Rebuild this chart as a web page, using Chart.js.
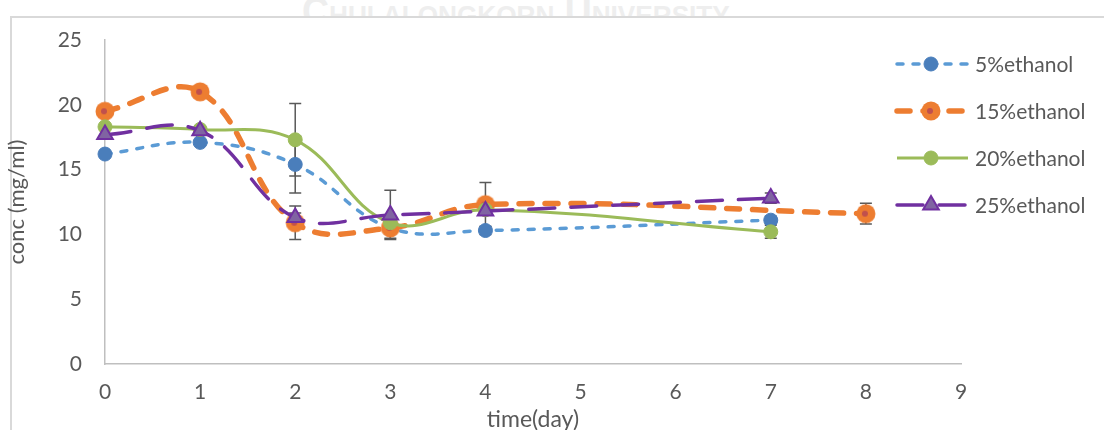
<!DOCTYPE html>
<html><head><meta charset="utf-8">
<script src="https://cdn.jsdelivr.net/npm/chart.js@4/dist/chart.umd.min.js"></script>
<style>
html,body{margin:0;padding:0;background:#fff;}
#wrap{position:relative;width:1104px;height:430px;overflow:hidden;background:#fff;}
#wm{position:absolute;left:302px;top:-9px;font:bold 40px 'Liberation Sans',sans-serif;line-height:40px;font-variant:small-caps;color:#eeeeee;white-space:nowrap;transform-origin:left top;}
#frame{position:absolute;left:10px;top:16px;width:1200px;height:600px;border-left:2px solid #d9d9d9;border-top:2px solid #d9d9d9;background:#fff;}
#c{position:absolute;left:0;top:0;}
</style>
</head><body>
<div id="wrap">
  <div id="wm">Chulalongkorn University</div>
  <div id="frame"></div>
  <canvas id="c" width="1104" height="430"></canvas>
</div>
<script>
// ---- data ----
const seriesLabels = ['5%ethanol', '15%ethanol', '20%ethanol', '25%ethanol'];
const days5  = [0, 1, 2, 3, 4, 7];
const conc5  = [16.2, 17.1, 15.4, 10.5, 10.3, 11.1];
const err5   = [0, 0, 2.2, 0.3, 0.3, 0.3];
const days15 = [0, 1, 2, 3, 4, 8];
const conc15 = [19.5, 21.0, 10.9, 10.5, 12.3, 11.6];
const err15  = [0, 0, 1.3, 0.8, 1.7, 0.8];
const days20 = [0, 1, 2, 3, 4, 7];
const conc20 = [18.3, 18.1, 17.3, 10.9, 11.9, 10.2];
const err20  = [0, 0, 2.8, 0.3, 0.3, 0.5];
const days25 = [0, 1, 2, 3, 4, 7];
const conc25 = [17.7, 18.0, 11.3, 11.5, 11.8, 12.8];
const err25  = [0, 0, 0.35, 1.9, 0.3, 0.4];
const xTickValues = [0, 1, 2, 3, 4, 5, 6, 7, 8, 9];
const yTickValues = [0, 5, 10, 15, 20, 25];
const xTitle = 'time(day)';
const yTitle = 'conc (mg/ml)';

// watermark width fit
(function(){const w=document.getElementById('wm');const s=428/w.offsetWidth;w.style.transform='scaleX('+s+')';})();

const FONT = 'Lato';
const TXT = '#595959';

function pts(xs, ys){ return xs.map((x,i)=>({x:x, y:ys[i]})); }

// orange marker image (circle with small red centre)
function orangeMarker(){
  const c=document.createElement('canvas'); c.width=22; c.height=22;
  const g=c.getContext('2d');
  g.fillStyle='#ED7D31'; g.beginPath(); g.arc(11,11,9.5,0,Math.PI*2); g.fill();
  g.fillStyle='#C0504D'; g.beginPath(); g.arc(10,11,3,0,Math.PI*2); g.fill();
  return c;
}
const oMark = orangeMarker();

const datasets = [
  {label: seriesLabels[0], data: pts(days5, conc5), errors: err5, order: 3, clip:false,
   borderColor:'#5B9BD5', borderWidth:3.5, borderDash:[6,10], borderCapStyle:'round',
   pointStyle:'circle', pointRadius:7, pointBackgroundColor:'#4A7EBB', pointBorderColor:'#4A7EBB', pointBorderWidth:1},
  {label: seriesLabels[1], data: pts(days15, conc15), errors: err15, order: 2, clip:false,
   borderColor:'#ED7D31', borderWidth:5.5, borderDash:[13,13], borderCapStyle:'round',
   pointStyle:oMark, pointRadius:9, pointBackgroundColor:'#ED7D31', pointBorderColor:'#ED7D31'},
  {label: seriesLabels[2], data: pts(days20, conc20), errors: err20, order: 1, clip:false,
   borderColor:'#9BBB59', borderWidth:3, borderDash:[],
   pointStyle:'circle', pointRadius:7, pointBackgroundColor:'#9BBB59', pointBorderColor:'#9BBB59', pointBorderWidth:1},
  {label: seriesLabels[3], data: pts(days25, conc25), errors: err25, order: 0, clip:false,
   borderColor:'#7030A0', borderWidth:3.5, borderDash:[26,16], borderCapStyle:'round',
   pointStyle:'triangle', pointRadius:9, pointBackgroundColor:'#8064A2', pointBorderColor:'#7030A0', pointBorderWidth:2}
];

const errorBars = {
  id:'errorBars',
  beforeDatasetsDraw(chart){
    const ctx=chart.ctx, xs=chart.scales.x, ys=chart.scales.y;
    ctx.save(); ctx.strokeStyle='#595959'; ctx.lineWidth=1.5; ctx.setLineDash([]);
    chart.data.datasets.forEach(ds=>{
      ds.data.forEach((p,j)=>{
        const e=ds.errors[j]; if(!e) return;
        const x=xs.getPixelForValue(p.x), y1=ys.getPixelForValue(p.y+e), y2=ys.getPixelForValue(p.y-e);
        ctx.beginPath(); ctx.moveTo(x,y1); ctx.lineTo(x,y2);
        ctx.moveTo(x-6,y1); ctx.lineTo(x+6,y1); ctx.moveTo(x-6,y2); ctx.lineTo(x+6,y2); ctx.stroke();
      });
    });
    ctx.restore();
  }
};

const sideLegend = {
  id:'sideLegend',
  afterDraw(chart){
    const ctx=chart.ctx;
    ctx.save();
    chart.data.datasets.forEach((ds,i)=>{
      const y=64+i*47, x0=897, x1=968, xm=931;
      ctx.strokeStyle=ds.borderColor; ctx.lineWidth=ds.borderWidth; ctx.lineCap=ds.borderCapStyle||'butt';
      ctx.setLineDash(ds.borderDash||[]);
      ctx.beginPath(); ctx.moveTo(x0,y); ctx.lineTo(x1,y); ctx.stroke();
      ctx.setLineDash([]);
      ctx.fillStyle=ds.pointBackgroundColor; ctx.strokeStyle=ds.pointBorderColor; ctx.lineWidth=ds.pointBorderWidth||0;
      Chart.helpers.drawPoint(ctx,{pointStyle:ds.pointStyle, radius:ds.pointRadius, rotation:0, borderWidth:ds.pointBorderWidth||0}, xm, y);
      ctx.fillStyle=TXT; ctx.font='21px '+FONT; ctx.textBaseline='middle'; ctx.textAlign='left';
      ctx.fillText(ds.label, 975, y+1);
    });
    ctx.restore();
  }
};

new Chart(document.getElementById('c'), {
  type:'line',
  data:{datasets:datasets},
  options:{
    responsive:false, animation:false,
    layout:{padding:{left:0, top:40, right:143, bottom:0}},
    elements:{line:{tension:0.4, fill:false}},
    plugins:{legend:{display:false}, tooltip:{enabled:false}},
    scales:{
      x:{type:'linear', min:0, max:9,
         afterFit(s){s.height=66;},
         afterBuildTicks(s){s.ticks=xTickValues.map(v=>({value:v}));},
         grid:{display:false, drawTicks:false},
         border:{display:true, color:'#bfbfbf', width:1.5},
         ticks:{color:TXT, font:{family:FONT, size:21}, padding:16, autoSkip:false, maxRotation:0},
         title:{display:true, text:xTitle, color:TXT, font:{family:FONT, size:23}, padding:{top:0, bottom:-3}}},
      y:{type:'linear', min:0, max:25,
         afterFit(s){s.width=105;},
         afterBuildTicks(s){s.ticks=yTickValues.map(v=>({value:v}));},
         grid:{display:false, drawTicks:false},
         border:{display:true, color:'#bfbfbf', width:1.5},
         ticks:{color:TXT, font:{family:FONT, size:21}, padding:23},
         title:{display:true, text:yTitle, color:TXT, font:{family:FONT, size:22}, padding:{top:4, bottom:0}}}
    }
  },
  plugins:[errorBars, sideLegend]
});
</script>
</body></html>
